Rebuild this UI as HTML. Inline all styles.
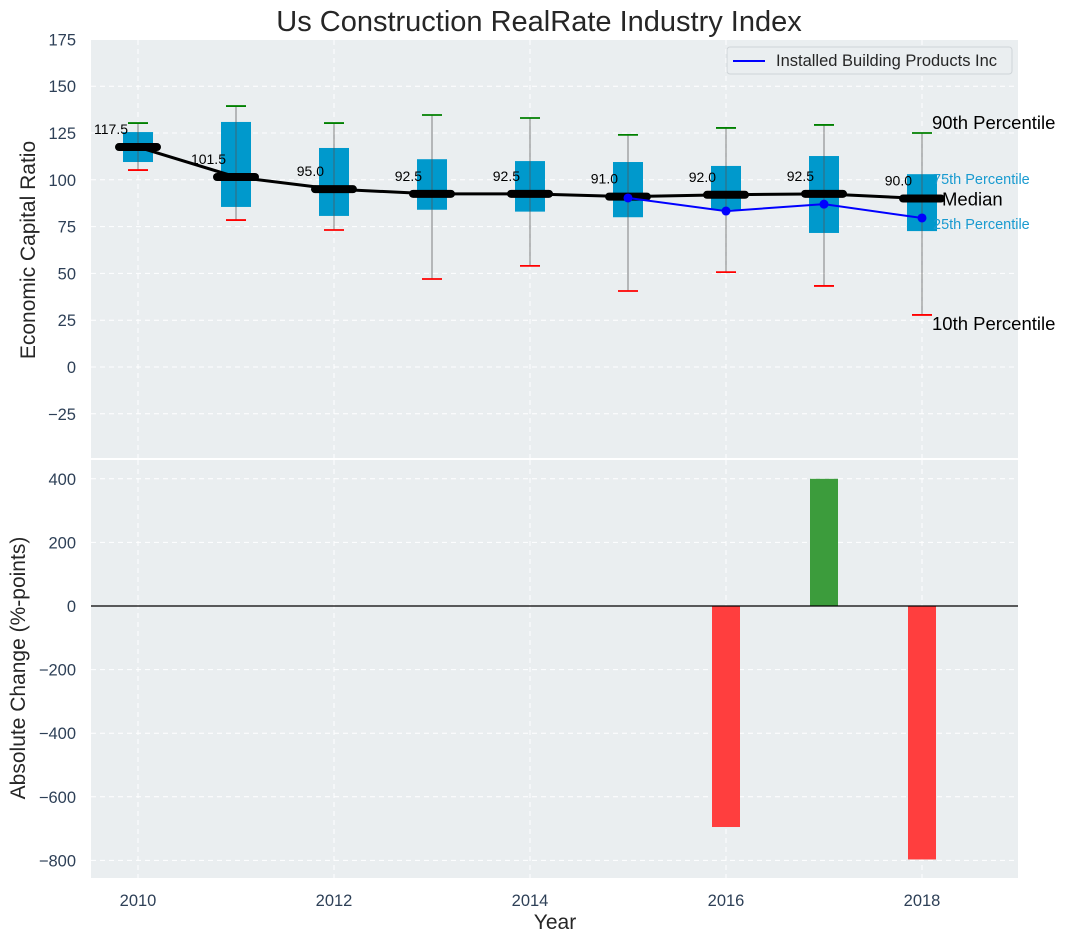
<!DOCTYPE html>
<html><head><meta charset="utf-8"><style>
html,body{margin:0;padding:0;background:#fff;}
svg{display:block;font-family:"Liberation Sans","DejaVu Sans",sans-serif;}
</style></head><body>
<svg id="chart" width="1067" height="942" viewBox="0 0 1067 942">
<text x="539" y="31" font-size="29" text-anchor="middle" fill="#262626">Us Construction RealRate Industry Index</text>
<rect x="91" y="40" width="927" height="418" fill="#eaeef0"/>
<rect x="91" y="460" width="927" height="418" fill="#eaeef0"/>
<g id="topg"></g>
<g id="botg"></g>
<text x="35" y="250" font-size="21" fill="#262626" text-anchor="middle" transform="rotate(-90 35 250)">Economic Capital Ratio</text>
<text x="25" y="668" font-size="21" fill="#262626" text-anchor="middle" transform="rotate(-90 25 668)">Absolute Change (%-points)</text>
<text x="555" y="929" font-size="21" fill="#262626" text-anchor="middle">Year</text>
<g>
<rect x="727" y="47" width="285" height="27" rx="3" fill="#eaeef0" stroke="#cfd4d8"/>
<line x1="733" y1="61" x2="765" y2="61" stroke="#0000ff" stroke-width="2"/>
<text x="776" y="66" font-size="16.5" fill="#262626">Installed Building Products Inc</text>
</g>
</svg>
<script>
const years=[2010,2011,2012,2013,2014,2015,2016,2017,2018];
const medians=[117.5,101.5,95,92.5,92.5,91,92,92.5,90];
const q75=[125.5,130.9,117,111,110,109.5,107.4,112.7,103];
const q25=[109.5,85.5,80.7,84,83,80,84,71.6,72.6];
const p90=[130.3,139.4,130.3,134.6,133,124,127.7,129.3,125];
const p10=[105.2,78.5,73.2,47,54,40.6,50.7,43.3,27.8];
const companyYears=[2015,2016,2017,2018];
const companyValues=[90.3,83.3,87,79.6];
const changeYears=[2016,2017,2018];
const changeValues=[-695,400,-797];
const topTicks=[175,150,125,100,75,50,25,0,-25];
const botTicks=[400,200,0,-200,-400,-600,-800];
const xTicks=[2010,2012,2014,2016,2018];

const NS="http://www.w3.org/2000/svg";
const X=v=>138+(v-2010)*98;
const YT=v=>367-v*1.872;
const YB=v=>606-v*0.318;
function mk(p,tag,a){const e=document.createElementNS(NS,tag);for(const k in a)e.setAttribute(k,a[k]);p.appendChild(e);return e;}
const gTop=document.getElementById('topg'),gBot=document.getElementById('botg');
const tickCol="#2e4057";
topTicks.forEach(t=>{const y=YT(t);
 const g=mk(gTop,'line',{x1:91,x2:1018,y1:y,y2:y,stroke:'#fff','stroke-dasharray':'5,4','stroke-width':1});
 
 
 const tx=mk(gTop,'text',{x:76,y:y+6,'font-size':16.5,'text-anchor':'end',fill:tickCol});tx.textContent=(t<0?'\u2212'+(-t):t);
 
 });
botTicks.forEach(t=>{const y=YB(t);
 const g=mk(gBot,'line',{x1:91,x2:1018,y1:y,y2:y,stroke:'#fff','stroke-dasharray':'5,4','stroke-width':1});
 
 
 const tx=mk(gBot,'text',{x:76,y:y+6,'font-size':16.5,'text-anchor':'end',fill:tickCol});tx.textContent=(t<0?'\u2212'+(-t):t);
 
 });
xTicks.forEach(t=>{const x=X(t);
 [[40,458,gTop],[460,878,gBot]].forEach(r=>{const g=mk(r[2],'line',{x1:x,x2:x,y1:r[0],y2:r[1],stroke:'#fff','stroke-dasharray':'5,4'});
 
 });
 const tx=mk(gBot,'text',{x:x,y:906,'font-size':16.5,'text-anchor':'middle',fill:tickCol});tx.textContent=t;
 
 });
years.forEach((yr,i)=>{const x=X(yr);
 const b=mk(gTop,'rect',{x:x-15,y:YT(q75[i]),width:30,height:YT(q25[i])-YT(q75[i]),fill:'#0099cc'});
 
 
 const w=mk(gTop,'line',{x1:x,x2:x,y1:YT(p90[i]),y2:YT(p10[i]),stroke:'#555','stroke-opacity':0.6,'stroke-width':1.2});
 
 
 const h=mk(gTop,'line',{x1:x-10,x2:x+10,y1:YT(p90[i]),y2:YT(p90[i]),stroke:'#008000','stroke-width':1.8});
 
 
 const l=mk(gTop,'line',{x1:x-10,x2:x+10,y1:YT(p10[i]),y2:YT(p10[i]),stroke:'#ff0000','stroke-width':1.8});
 
 
});
const mp=mk(gTop,'polyline',{points:years.map((y,i)=>X(y)+','+YT(medians[i])).join(' '),fill:'none',stroke:'#000','stroke-width':3});


years.forEach((yr,i)=>{const x=X(yr),y=YT(medians[i]);
 const m=mk(gTop,'line',{x1:x-19,x2:x+19,y1:y,y2:y,stroke:'#000','stroke-width':8,'stroke-linecap':'round'});
 
 
 const t=mk(gTop,'text',{x:x-10,y:y-13,'font-size':14,'text-anchor':'end',fill:'#000'});t.textContent=medians[i].toFixed(1);
 
 });
const cl=mk(gTop,'polyline',{points:companyYears.map((y,i)=>X(y)+','+YT(companyValues[i])).join(' '),fill:'none',stroke:'#0000ff','stroke-width':2});


companyYears.forEach((yr,i)=>{const c=mk(gTop,'circle',{cx:X(yr),cy:YT(companyValues[i]),r:4.5,fill:'#0000ff'});
 
 });
const last=years.length-1,lx=X(years[last]);
[['90th Percentile',lx+10,YT(p90[last])-4,18.5,'#000','p90-annotation'],
 ['75th Percentile',lx+11,YT(q75[last])+10,14.5,'#1a9bd0','p75-annotation'],
 ['Median',lx+20,YT(medians[last])+7,18.5,'#000','median-annotation'],
 ['25th Percentile',lx+11,YT(q25[last])-2,14.5,'#1a9bd0','p25-annotation'],
 ['10th Percentile',lx+10,YT(p10[last])+15,18.5,'#000','p10-annotation']].forEach(a=>{
 const t=mk(gTop,'text',{x:a[1],y:a[2],'font-size':a[3],fill:a[4]});t.textContent=a[0];
 
 });
changeYears.forEach((yr,i)=>{const v=changeValues[i];
 const y0=YB(Math.max(v,0)),y1=YB(Math.min(v,0));
 const r=mk(gBot,'rect',{x:X(yr)-14,y:y0,width:28,height:y1-y0,fill:v>=0?'#3c9c3c':'#ff3e3e'});
 
 });
const z=mk(gBot,'line',{x1:91,x2:1018,y1:YB(0),y2:YB(0),stroke:'#000','stroke-width':1.3});


</script>
</body></html>
